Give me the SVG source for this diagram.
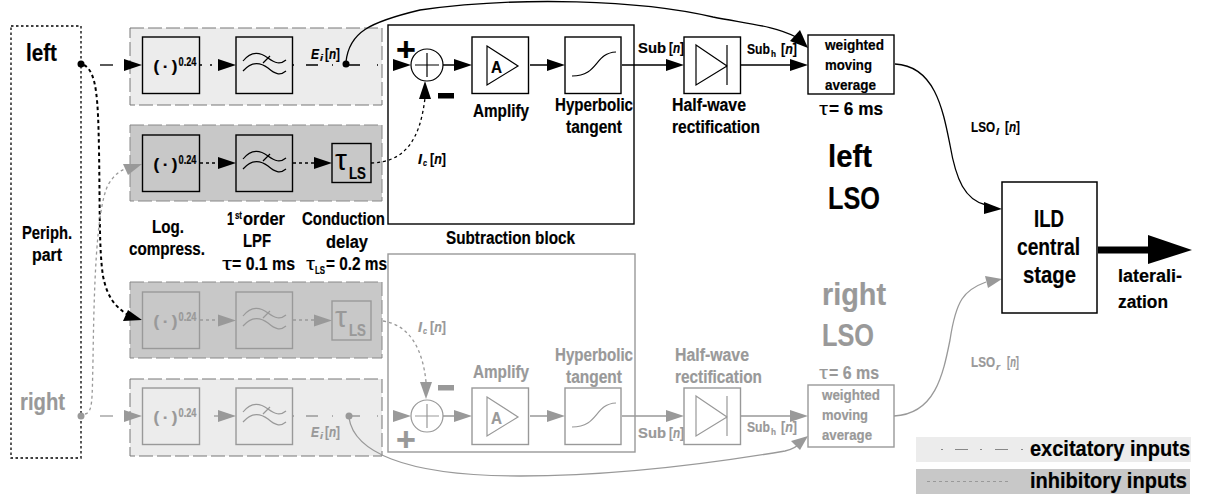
<svg xmlns="http://www.w3.org/2000/svg" width="1206" height="500" viewBox="0 0 1206 500">
<style>
text{font-family:"Liberation Sans",Arial,sans-serif;font-weight:bold;fill:currentColor;stroke:currentColor;stroke-width:.2}
.k{color:#000}.g{color:#999}
.box{fill:none;stroke:currentColor;stroke-width:1.4}
.thin{fill:none;stroke:currentColor;stroke-width:1.2}
.exc{fill:#ececec;stroke:#777;stroke-width:1;stroke-dasharray:14 4}
.inh{fill:#c8c8c8;stroke:#888;stroke-width:1;stroke-dasharray:14 4}
.w{fill:none;stroke:currentColor;stroke-width:1.3}
.dd{fill:none;stroke:currentColor;stroke-width:1.3}
.dot{fill:none;stroke:currentColor;stroke-width:1.3;stroke-dasharray:3 3}
.hd{fill:currentColor}
.s14{font-size:15.500px}.s13{font-size:15px}.s16{font-size:18px}.s21{font-size:24px}.s31{font-size:32px}.s22{font-size:24px}
.it{font-style:italic}.n{font-weight:normal;stroke:none}.sub{font-size:9px}
</style>
<defs>
<polygon id="head" class="hd" points="-18,-6 0,0 -18,6"/>
<g id="pow"><rect class="box" x="0" y="0" width="57" height="56.500"/><text x="11" y="35" font-size="17" textLength="24" lengthAdjust="spacing">( · )</text><text x="36" y="29" font-size="12" textLength="18" lengthAdjust="spacingAndGlyphs">0.24</text></g>
<g id="lpf"><rect class="box" x="0" y="0" width="56.500" height="56.500"/><path class="thin" d="M7 24C15 14 24 15 32 21C39 26 44 28 50 23M7 34C15 25 24 25 32 31C39 37 44 39 50 34M27 26L34 19"/></g>
<g id="tau"><rect class="box" x="0" y="0" width="39" height="39"/><text class="n" x="3" y="26" font-size="30">τ</text><text x="17" y="35" font-size="17" textLength="17" lengthAdjust="spacingAndGlyphs">LS</text></g>
<g id="sum"><circle class="thin" cx="0" cy="0" r="16"/><path class="thin" d="M-12 0H12M0 -12V12"/></g>
<g id="amp"><rect class="box" x="0" y="0" width="56.500" height="56.500"/><path class="thin" d="M15 9L46 29L15 48Z"/><text x="19" y="36" font-size="17" textLength="11" lengthAdjust="spacingAndGlyphs">A</text></g>
<g id="tanh"><rect class="box" x="0" y="0" width="56" height="56.500"/><path class="thin" d="M7 39C34 39 29 16 51 15"/></g>
<g id="diode"><rect class="box" x="0" y="0" width="56.500" height="56.500"/><path class="thin" d="M12 8L43 29L12 48ZM43 8V48"/></g>
</defs>
<rect width="1206" height="500" fill="#fff"/>

<g id="bands">
<rect class="exc" x="130" y="28" width="252" height="77"/>
<rect class="inh" x="130" y="125" width="252" height="76"/>
<rect class="inh" x="130" y="282" width="252" height="76"/>
<rect class="exc" x="130" y="379" width="252" height="77"/>
</g>

<g id="periph">
<rect x="11" y="26" width="70" height="432" fill="none" stroke="#000" stroke-width="1.300" stroke-dasharray="2.500 2.500"/>
<text class="k s21" x="26" y="61" textLength="31" lengthAdjust="spacingAndGlyphs">left</text>
<text class="k s16" x="22" y="239" textLength="50" lengthAdjust="spacingAndGlyphs">Periph.</text>
<text class="k s16" x="32" y="261" textLength="30" lengthAdjust="spacingAndGlyphs">part</text>
<text class="g s21" x="20" y="410" textLength="45" lengthAdjust="spacingAndGlyphs">right</text>
</g>

<g id="connectors">
<g class="k">
<path class="dd" d="M100 65H113"/><use href="#head" x="142" y="65"/>
<path class="dd" d="M200 65H202M210 65H212"/><use href="#head" x="236" y="65"/>
<path class="dd" d="M293 65H294M306 65H318M332 65H333M346 65H360M377 65H378"/><use href="#head" x="411" y="65"/>
<circle cx="346" cy="64" r="3.500" fill="#000"/><circle cx="81" cy="64" r="3.500" fill="#000"/>
<path class="w" d="M346 62C349 32 370 22 420 10C520 -4 640 0 713 17C750 24 775 26 796 37"/>
<polygon class="hd" points="808,48 790,41 800,30"/>
<path class="dot" d="M200 163H219M293 163H315"/><use href="#head" x="236" y="163"/><use href="#head" x="332" y="163"/>
<path class="dot" d="M371 163C405 162 420 140 425 98"/><polygon class="hd" points="425,81 419,99 431,99"/>
<path d="M84 65C97 72 98 100 99 150C100 210 99 250 103 276C107 296 114 306 128 315" fill="none" stroke="#000" stroke-width="2" stroke-dasharray="3.500 3"/>
<polygon class="hd" points="142,320 123,321 128,310"/>
<path class="w" d="M443 65H455M530 65H548M622 65H667M741 65H790"/>
<use href="#head" x="472" y="65"/><use href="#head" x="565" y="65"/><use href="#head" x="684" y="65"/><use href="#head" x="808" y="65"/>
<path class="w" d="M895 64C935 66 943 110 950 145C956 180 965 200 986 205"/>
<polygon class="hd" points="1002,209 984,202 984,214"/>
<path d="M1098 250H1150" fill="none" stroke="#000" stroke-width="7"/>
<polygon class="hd" points="1148,235 1192,250 1148,264"/>
</g>
<g class="g">
<path class="dot" d="M85 414C93 412 92 400 93 360C94 290 96 210 108 185C114 175 120 170 128 168"/>
<polygon class="hd" points="142,164 123,164 128,175"/>
<path class="dot" d="M200 320H219M293 320H315"/><use href="#head" x="236" y="320.500"/><use href="#head" x="332" y="320.500"/>
<path class="dot" d="M383 321C410 325 423 350 426 382"/><polygon class="hd" points="426,399 420,382 432,382"/>
<path class="dd" d="M100 416H113"/><use href="#head" x="142" y="416"/>
<path class="w" d="M214 416H219"/><use href="#head" x="236" y="416"/>
<path class="dd" d="M293 416H294M306 416H318M332 416H333M349 416H360M377 416H378"/><use href="#head" x="411" y="416"/>
<circle cx="81" cy="416" r="3.500" fill="#999"/><circle cx="349" cy="416" r="3.500" fill="#999"/>
<path class="w" d="M349 418C354 450 400 476 520 476C620 476 720 462 785 451C795 449 800 444 803 441"/>
<polygon class="hd" points="808,436 800,450 791,441"/>
<path class="w" d="M443 416H455M530 416H548M622 416H667M741 416H790"/>
<use href="#head" x="472" y="416"/><use href="#head" x="565" y="416"/><use href="#head" x="684" y="416"/><use href="#head" x="808" y="416"/>
<path class="w" d="M894 416C935 414 943 375 950 340C956 300 964 290 986 282"/>
<polygon class="hd" points="1002,279 985,276 988,288"/>
</g>
</g>

<g id="row-left-exc" class="k">
<use href="#pow" x="142.500" y="37"/><use href="#lpf" x="236" y="37"/>
<text class="s14 it" x="311" y="59" textLength="8" lengthAdjust="spacingAndGlyphs">E</text>
<text class="sub it" x="320" y="61" textLength="3" lengthAdjust="spacingAndGlyphs">i</text>
<text class="s14" x="325" y="59" textLength="15" lengthAdjust="spacingAndGlyphs">[<tspan class="it">n</tspan>]</text>
</g>
<g id="row-left-inh" class="k">
<use href="#pow" x="142.500" y="135"/><use href="#lpf" x="236" y="135"/><use href="#tau" x="332" y="143.500"/>
</g>
<g id="row-right-inh" class="g">
<use href="#pow" x="142.500" y="292"/><use href="#lpf" x="236" y="292"/><use href="#tau" x="332" y="301"/>
</g>
<g id="row-right-exc" class="g">
<use href="#pow" x="142.500" y="388"/><use href="#lpf" x="236" y="388"/>
<text class="s14 it" x="311" y="437" textLength="8" lengthAdjust="spacingAndGlyphs">E</text>
<text class="sub it" x="320" y="439" textLength="3" lengthAdjust="spacingAndGlyphs">i</text>
<text class="s14" x="325" y="437" textLength="15" lengthAdjust="spacingAndGlyphs">[<tspan class="it">n</tspan>]</text>
</g>

<g id="stage-labels" class="k">
<text class="s16" x="152" y="233" textLength="32" lengthAdjust="spacingAndGlyphs">Log.</text>
<text class="s16" x="129" y="255" textLength="76" lengthAdjust="spacingAndGlyphs">compress.</text>
<text class="s16" x="227" y="225" textLength="7" lengthAdjust="spacingAndGlyphs">1</text>
<text x="235" y="219" font-size="10" textLength="7" lengthAdjust="spacingAndGlyphs">st</text>
<text class="s16" x="243" y="225" textLength="42" lengthAdjust="spacingAndGlyphs">order</text>
<text class="s16" x="243" y="247" textLength="28" lengthAdjust="spacingAndGlyphs">LPF</text>
<text class="s16 n" x="222" y="270" textLength="10" lengthAdjust="spacingAndGlyphs">τ</text>
<text class="s16" x="232" y="270" textLength="63" lengthAdjust="spacingAndGlyphs">= 0.1 ms</text>
<text class="s16" x="302" y="225" textLength="83" lengthAdjust="spacingAndGlyphs">Conduction</text>
<text class="s16" x="326" y="248" textLength="42" lengthAdjust="spacingAndGlyphs">delay</text>
<text class="s16 n" x="306" y="270" textLength="9" lengthAdjust="spacingAndGlyphs">τ</text>
<text x="315" y="274" font-size="10" textLength="10" lengthAdjust="spacingAndGlyphs">LS</text>
<text class="s16" x="326" y="270" textLength="61" lengthAdjust="spacingAndGlyphs">= 0.2 ms</text>
</g>

<g id="left-lso" class="k">
<rect class="box" x="388" y="25" width="246" height="199"/>
<use href="#sum" x="427" y="65"/>
<text font-size="34" x="396" y="61">+</text>
<rect x="438" y="93" width="16" height="5.500" fill="#000"/>
<use href="#amp" x="472" y="37"/><use href="#tanh" x="565" y="37"/><use href="#diode" x="684" y="37"/>
<text class="s14 it" x="418" y="164" textLength="4" lengthAdjust="spacingAndGlyphs">I</text>
<text class="sub it" x="423" y="166" textLength="4" lengthAdjust="spacingAndGlyphs">c</text>
<text class="s14" x="430" y="164" textLength="16" lengthAdjust="spacingAndGlyphs">[<tspan class="it">n</tspan>]</text>
<text class="s16" x="473" y="117" textLength="56" lengthAdjust="spacingAndGlyphs">Amplify</text>
<text class="s16" x="555" y="111" textLength="78" lengthAdjust="spacingAndGlyphs">Hyperbolic</text>
<text class="s16" x="566" y="133" textLength="56" lengthAdjust="spacingAndGlyphs">tangent</text>
<text class="s16" x="446" y="244" textLength="129" lengthAdjust="spacingAndGlyphs">Subtraction block</text>
<text class="s16" x="672" y="111" textLength="74" lengthAdjust="spacingAndGlyphs">Half-wave</text>
<text class="s16" x="672" y="133" textLength="88" lengthAdjust="spacingAndGlyphs">rectification</text>
<text class="s14" x="638" y="53" textLength="28" lengthAdjust="spacingAndGlyphs">Sub</text>
<text class="s14" x="669" y="53" textLength="15" lengthAdjust="spacingAndGlyphs">[<tspan class="it">n</tspan>]</text>
<text class="s14" x="747" y="54" textLength="23" lengthAdjust="spacingAndGlyphs">Sub</text>
<text class="sub" x="771" y="57" textLength="5" lengthAdjust="spacingAndGlyphs">h</text>
<text class="s14" x="781" y="54" textLength="16" lengthAdjust="spacingAndGlyphs">[<tspan class="it">n</tspan>]</text>
<rect class="box" x="808" y="35" width="86" height="59"/>
<text class="s13" x="825" y="50" textLength="59" lengthAdjust="spacingAndGlyphs">weighted</text>
<text class="s13" x="825" y="70" textLength="47" lengthAdjust="spacingAndGlyphs">moving</text>
<text class="s13" x="825" y="90" textLength="51" lengthAdjust="spacingAndGlyphs">average</text>
<text class="s16 n" x="819" y="115" textLength="9" lengthAdjust="spacingAndGlyphs">τ</text>
<text class="s16" x="829" y="115" textLength="54" lengthAdjust="spacingAndGlyphs">=  6 ms</text>
<text class="s31" x="828" y="167" textLength="44" lengthAdjust="spacingAndGlyphs">left</text>
<text class="s31" x="828" y="209" textLength="52" lengthAdjust="spacingAndGlyphs">LSO</text>
<text class="s14" x="971" y="132" textLength="24" lengthAdjust="spacingAndGlyphs">LSO</text>
<text class="sub it" x="996" y="135" textLength="3" lengthAdjust="spacingAndGlyphs">l</text>
<text class="s14" x="1005" y="132" textLength="15" lengthAdjust="spacingAndGlyphs">[<tspan class="it">n</tspan>]</text>
</g>

<g id="right-lso" class="g">
<rect class="box" x="388" y="254" width="247" height="198"/>
<use href="#sum" x="427" y="416"/>
<text font-size="34" x="396" y="451">+</text>
<rect x="438" y="385" width="16" height="5.500" fill="#999"/>
<use href="#amp" x="472" y="388"/><use href="#tanh" x="565" y="388"/><use href="#diode" x="684" y="388"/>
<text class="s14 it" x="418" y="332" textLength="4" lengthAdjust="spacingAndGlyphs">I</text>
<text class="sub it" x="423" y="334" textLength="4" lengthAdjust="spacingAndGlyphs">c</text>
<text class="s14" x="430" y="332" textLength="16" lengthAdjust="spacingAndGlyphs">[<tspan class="it">n</tspan>]</text>
<text class="s16" x="473" y="378" textLength="56" lengthAdjust="spacingAndGlyphs">Amplify</text>
<text class="s16" x="555" y="361" textLength="78" lengthAdjust="spacingAndGlyphs">Hyperbolic</text>
<text class="s16" x="566" y="383" textLength="56" lengthAdjust="spacingAndGlyphs">tangent</text>
<text class="s16" x="675" y="361" textLength="74" lengthAdjust="spacingAndGlyphs">Half-wave</text>
<text class="s16" x="675" y="383" textLength="87" lengthAdjust="spacingAndGlyphs">rectification</text>
<text class="s14" x="638" y="438" textLength="28" lengthAdjust="spacingAndGlyphs">Sub</text>
<text class="s14" x="669" y="438" textLength="15" lengthAdjust="spacingAndGlyphs">[<tspan class="it">n</tspan>]</text>
<text class="s14" x="747" y="432" textLength="23" lengthAdjust="spacingAndGlyphs">Sub</text>
<text class="sub" x="771" y="435" textLength="5" lengthAdjust="spacingAndGlyphs">h</text>
<text class="s14" x="781" y="432" textLength="16" lengthAdjust="spacingAndGlyphs">[<tspan class="it">n</tspan>]</text>
<rect class="box" x="808" y="385" width="86" height="62"/>
<text class="s13" x="822" y="400" textLength="58" lengthAdjust="spacingAndGlyphs">weighted</text>
<text class="s13" x="822" y="420" textLength="46" lengthAdjust="spacingAndGlyphs">moving</text>
<text class="s13" x="822" y="440" textLength="50" lengthAdjust="spacingAndGlyphs">average</text>
<text class="s16 n" x="819" y="379" textLength="9" lengthAdjust="spacingAndGlyphs">τ</text>
<text class="s16" x="829" y="379" textLength="50" lengthAdjust="spacingAndGlyphs">= 6 ms</text>
<text class="s31" x="822" y="305" textLength="64" lengthAdjust="spacingAndGlyphs">right</text>
<text class="s31" x="822" y="346" textLength="52" lengthAdjust="spacingAndGlyphs">LSO</text>
<text class="s14" x="971" y="367" textLength="24" lengthAdjust="spacingAndGlyphs">LSO</text>
<text class="sub it" x="996" y="370" textLength="4" lengthAdjust="spacingAndGlyphs">r</text>
<text class="s14" x="1007" y="367" textLength="12" lengthAdjust="spacingAndGlyphs">[<tspan class="it">n</tspan>]</text>
</g>

<g id="ild" class="k">
<rect x="1002" y="182" width="95" height="131" fill="#fff" stroke="#000" stroke-width="1.500"/>
<text class="s22" x="1034" y="227" textLength="30" lengthAdjust="spacingAndGlyphs">ILD</text>
<text class="s22" x="1017" y="255" textLength="63" lengthAdjust="spacingAndGlyphs">central</text>
<text class="s22" x="1023" y="283" textLength="53" lengthAdjust="spacingAndGlyphs">stage</text>
<text class="s16" x="1118" y="282" textLength="64" lengthAdjust="spacingAndGlyphs">laterali-</text>
<text class="s16" x="1118" y="308" textLength="50" lengthAdjust="spacingAndGlyphs">zation</text>
</g>

<g id="legend" class="k">
<rect x="916" y="437" width="275" height="25" fill="#ececec"/>
<rect x="916" y="469" width="274" height="25" fill="#c8c8c8"/>
<path d="M941 449.500H943M955 449.500H968M980 449.500H982M995 449.500H1008M1021 449.500H1023" stroke="#888" stroke-width="1" fill="none"/>
<path d="M927 481.500H1011" stroke="#999" stroke-width="1" stroke-dasharray="3 3" fill="none"/>
<text font-size="22" x="1030" y="456" textLength="160" lengthAdjust="spacingAndGlyphs">excitatory inputs</text>
<text font-size="22" x="1030" y="488" textLength="157" lengthAdjust="spacingAndGlyphs">inhibitory inputs</text>
</g>
</svg>
